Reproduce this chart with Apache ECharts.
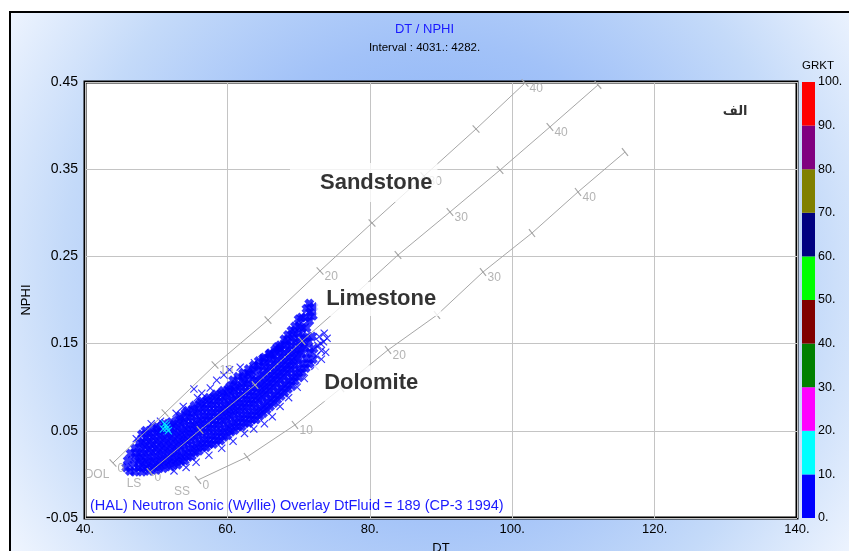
<!DOCTYPE html>
<html><head><meta charset="utf-8">
<script src="https://cdn.jsdelivr.net/npm/echarts/dist/echarts.min.js"></script>
<style>
html,body{margin:0;padding:0;background:#fff;width:849px;height:551px;overflow:hidden;}
#frame{position:absolute;left:9px;top:11px;width:870px;height:570px;border:2px solid #000;box-sizing:border-box;
background:radial-gradient(circle 520px at 425px 262px,#78a6f4 0%,#a2c2f8 45%,#c4daf9 72%,#f4f8ff 100%);}
#chart{position:absolute;left:0;top:0;width:849px;height:551px;}
</style></head>
<body>
<div id="frame"></div>
<div id="chart"></div>
<script>
// ---- axis ticks ----
const xTicks = [40, 60, 80, 100, 120, 140];
const yTicks = [-0.05, 0.05, 0.15, 0.25, 0.35, 0.45];
// ---- GRKT colour scale ----
const grBins = [0, 10, 20, 30, 40, 50, 60, 70, 80, 90];
const grColors = ['#0000ff', '#00ffff', '#ff00ff', '#008000', '#800000', '#00ff00', '#000080', '#808000', '#800080', '#ff0000'];
// ---- overlay lines: [porosity, DT, NPHI] ----
const dolTicks = [[0,43.93,0.0131],[5,51.24,0.0704],[10,58.26,0.1255],[15,65.70,0.177],[20,73.01,0.2333],[25,80.31,0.2883],[30,87.61,0.3422],[35,94.92,0.3961],[40,101.80,0.4489]];
const lsTicks = [[0,49.13,0.0028],[5,56.15,0.0509],[10,63.88,0.1025],[15,70.48,0.153],[20,77.50,0.2034],[25,83.96,0.2516],[30,91.26,0.3009],[35,98.29,0.349],[40,105.3,0.3984],[45,112.05,0.4466]];
const ssTicks = [[0,55.87,-0.0064],[5,62.75,0.020],[10,69.49,0.0567],[15,75.96,0.099],[20,82.56,0.1427],[25,89.44,0.1828],[30,95.90,0.2321],[35,102.78,0.2768],[40,109.24,0.3239],[45,115.84,0.3697]];
const lithoNames = ['DOL', 'LS', 'SS'];
// ---- text annotations: [text, DT, NPHI] ----
const annotations = [['Sandstone', 80.9, 0.3365], ['Limestone', 81.6, 0.2034], ['Dolomite', 80.2, 0.108]];
const cornerTag = ['الف', 131.3, 0.4156];
// ---- samples, GRKT 10-20 ----
const grCyan = [[51.0,0.052],[51.4,0.056],[51.7,0.050],[51.2,0.058],[51.5,0.053]];
// ---- samples, GRKT 0-10, dense body [DT, NPHI] ----
const grBlue = [
[45.8,0.008],[46.0,0.016],[46.3,0.004],[46.4,0.024],
[47.0,0.003],[46.9,0.012],[47.1,0.020],[47.0,0.030],
[47.5,0.008],[47.6,0.016],[47.4,0.025],[47.6,0.036],
[48.0,0.003],[48.1,0.011],[47.9,0.019],[48.0,0.028],[48.1,0.037],[48.0,0.046],
[48.5,0.007],[48.6,0.015],[48.4,0.024],[48.5,0.033],[48.6,0.042],[48.5,0.050],
[49.0,0.004],[49.1,0.012],[48.9,0.020],[49.0,0.029],[49.1,0.038],[49.0,0.047],
[49.5,0.008],[49.6,0.016],[49.4,0.025],[49.5,0.034],[49.6,0.043],[49.5,0.052],
[50.0,0.005],[50.1,0.013],[49.9,0.021],[50.0,0.030],[50.1,0.039],[50.0,0.048],[50.1,0.055],
[50.5,0.009],[50.6,0.017],[50.4,0.026],[50.5,0.035],[50.6,0.044],[50.5,0.052],
[51.0,0.007],[51.1,0.015],[50.9,0.023],[51.0,0.032],[51.1,0.041],[51.0,0.050],[51.1,0.058],
[51.5,0.011],[51.6,0.019],[51.4,0.028],[51.5,0.037],[51.6,0.046],[51.5,0.055],
[52.0,0.009],[52.1,0.017],[51.9,0.025],[52.0,0.034],[52.1,0.043],[52.0,0.052],[52.1,0.060],
[52.5,0.013],[52.6,0.021],[52.4,0.030],[52.5,0.039],[52.6,0.048],[52.5,0.057],
[53.0,0.011],[53.1,0.019],[52.9,0.027],[53.0,0.036],[53.1,0.045],[53.0,0.054],[53.1,0.063],
[53.5,0.015],[53.6,0.023],[53.4,0.032],[53.5,0.041],[53.6,0.050],[53.5,0.059],[53.4,0.067],
[54.0,0.016],[54.1,0.025],[53.9,0.034],[54.0,0.043],[54.1,0.052],[54.0,0.061],[54.1,0.070],
[54.5,0.020],[54.6,0.029],[54.4,0.038],[54.5,0.047],[54.6,0.056],[54.5,0.065],[54.4,0.073],
[55.0,0.021],[55.1,0.030],[54.9,0.039],[55.0,0.048],[55.1,0.057],[55.0,0.066],[55.1,0.075],
[55.5,0.025],[55.6,0.034],[55.4,0.043],[55.5,0.052],[55.6,0.061],[55.5,0.070],[55.4,0.079],
[56.0,0.027],[56.1,0.036],[55.9,0.045],[56.0,0.054],[56.1,0.063],[56.0,0.072],[56.1,0.081],
[56.5,0.031],[56.6,0.040],[56.4,0.049],[56.5,0.058],[56.6,0.067],[56.5,0.076],[56.4,0.084],
[57.0,0.031],[57.1,0.040],[56.9,0.049],[57.0,0.058],[57.1,0.067],[57.0,0.076],[57.1,0.085],
[57.5,0.035],[57.6,0.044],[57.4,0.053],[57.5,0.062],[57.6,0.071],[57.5,0.080],[57.4,0.088],
[58.0,0.035],[58.1,0.044],[57.9,0.053],[58.0,0.062],[58.1,0.071],[58.0,0.080],[58.1,0.089],
[58.5,0.039],[58.6,0.048],[58.4,0.057],[58.5,0.066],[58.6,0.075],[58.5,0.084],[58.4,0.092],
[59.0,0.039],[59.1,0.048],[58.9,0.057],[59.0,0.066],[59.1,0.075],[59.0,0.084],[59.1,0.093],
[59.5,0.043],[59.6,0.052],[59.4,0.061],[59.5,0.070],[59.6,0.079],[59.5,0.088],[59.4,0.096],
[60.0,0.045],[60.1,0.054],[59.9,0.063],[60.0,0.072],[60.1,0.081],[60.0,0.090],[60.1,0.098],
[60.5,0.049],[60.6,0.058],[60.4,0.067],[60.5,0.076],[60.6,0.085],[60.5,0.094],[60.4,0.101],
[61.0,0.051],[61.1,0.060],[60.9,0.069],[61.0,0.078],[61.1,0.087],[61.0,0.096],[61.1,0.103],
[61.5,0.055],[61.6,0.064],[61.4,0.073],[61.5,0.082],[61.6,0.091],[61.5,0.100],
[62.0,0.055],[62.1,0.064],[61.9,0.073],[62.0,0.082],[62.1,0.091],[62.0,0.100],[62.1,0.108],
[62.5,0.059],[62.6,0.068],[62.4,0.077],[62.5,0.086],[62.6,0.095],[62.5,0.104],[62.4,0.112],
[63.0,0.059],[63.1,0.068],[62.9,0.077],[63.0,0.086],[63.1,0.095],[63.0,0.104],[63.1,0.114],
[63.5,0.063],[63.6,0.072],[63.4,0.081],[63.5,0.090],[63.6,0.099],[63.5,0.108],[63.4,0.117],
[64.0,0.063],[64.1,0.072],[63.9,0.081],[64.0,0.090],[64.1,0.099],[64.0,0.108],[64.1,0.120],
[64.5,0.067],[64.6,0.076],[64.4,0.085],[64.5,0.094],[64.6,0.103],[64.5,0.112],[64.4,0.124],
[65.0,0.070],[65.1,0.079],[64.9,0.088],[65.0,0.097],[65.1,0.106],[65.0,0.115],[65.1,0.124],[65.0,0.133],
[65.5,0.074],[65.6,0.083],[65.4,0.092],[65.5,0.101],[65.6,0.110],[65.5,0.119],[65.4,0.128],
[66.0,0.078],[66.1,0.087],[65.9,0.096],[66.0,0.105],[66.1,0.114],[66.0,0.123],[66.1,0.132],[66.0,0.139],
[66.5,0.082],[66.6,0.091],[66.4,0.100],[66.5,0.109],[66.6,0.118],[66.5,0.127],[66.4,0.136],
[67.0,0.086],[67.1,0.095],[66.9,0.104],[67.0,0.113],[67.1,0.122],[67.0,0.131],[67.1,0.140],[67.0,0.146],
[67.5,0.090],[67.6,0.099],[67.4,0.108],[67.5,0.117],[67.6,0.126],[67.5,0.135],[67.4,0.144],
[68.0,0.094],[68.1,0.103],[67.9,0.112],[68.0,0.121],[68.1,0.130],[68.0,0.139],[68.1,0.148],[68.0,0.155],
[68.5,0.098],[68.6,0.107],[68.4,0.116],[68.5,0.125],[68.6,0.134],[68.5,0.143],[68.4,0.152],[68.5,0.160],
[69.0,0.102],[69.1,0.111],[68.9,0.120],[69.0,0.129],[69.1,0.138],[69.0,0.147],[69.1,0.156],[69.0,0.165],
[69.5,0.107],[69.6,0.116],[69.4,0.125],[69.5,0.134],[69.6,0.143],[69.5,0.152],[69.4,0.162],[69.5,0.170],
[70.0,0.112],[70.1,0.121],[69.9,0.131],[70.0,0.141],[70.1,0.151],[70.0,0.161],[70.1,0.170],[70.0,0.178],
[70.5,0.117],[70.6,0.127],[70.4,0.138],[70.5,0.148],[70.6,0.158],[70.5,0.168],[70.4,0.180],
[71.0,0.122],[71.1,0.133],[70.9,0.145],[71.0,0.156],[71.1,0.168],[71.0,0.180],[71.1,0.190],
[71.5,0.127],[71.6,0.140],[71.4,0.152],[71.5,0.176],[71.6,0.186],[71.5,0.196],
[72.0,0.132],[72.1,0.144],[71.9,0.158],[72.0,0.182],[72.1,0.192],
[60.8,0.108],[61.5,0.112],[62.2,0.116],[63.0,0.121],[63.7,0.125],[64.4,0.130],[65.2,0.134],[65.9,0.138],[66.7,0.143],[67.4,0.148]
];
// ---- samples, GRKT 0-10, scattered fringe ----
const grBlueFringe = [
[72.5,0.136],[72.7,0.148],[72.9,0.158],[73.2,0.142],[73.5,0.152],[73.8,0.140],[74.0,0.156],[73.6,0.162],[73.1,0.150],
[47.2,0.041],[49.3,0.058],[50.6,0.061],[52.8,0.070],[53.8,0.078],[55.3,0.098],[55.8,0.088],[56.4,0.093],[57.6,0.099],
[58.5,0.108],[59.5,0.114],[60.3,0.120],[61.8,0.123],[62.9,0.116],[63.8,0.128],
[52.5,0.004],[54.2,0.008],[55.6,0.014],[57.4,0.022],[59.2,0.030],[60.8,0.038],[62.4,0.047],[63.7,0.052],[65.2,0.058],
[66.3,0.066],[67.4,0.078],[68.6,0.088],[69.8,0.100],[70.8,0.110],[72.3,0.124],[73.2,0.132]
];

const crossBold = 'path://M0,3L3,0L5,2L7,0L10,3L8,5L10,7L7,10L5,8L3,10L0,7L2,5Z';
const crossThin = 'path://M1,0L5,4L9,0L10,1L6,5L10,9L9,10L5,6L1,10L0,9L4,5L0,1Z';
const greyLine = '#a6a6a6';
const font = 'Liberation Sans, Arial, sans-serif';
const annoPad = { Sandstone: [9, 5, 8, 30], Limestone: [6, 5, 6, 10], Dolomite: [6, 5, 8, 10] };

function lineSeries(ticks, rot) {
  return {
    type: 'line', z: 4, silent: true, animation: false,
    data: ticks.map(t => [t[1], t[2], t[0]]),
    lineStyle: { color: greyLine, width: 1 },
    itemStyle: { color: greyLine },
    symbol: 'rect', symbolSize: [1.2, 10], symbolRotate: rot, showSymbol: true
  };
}
function tickLabelSeries(ticks, zz) {
  return {
    type: 'scatter', z: zz, silent: true, animation: false,
    symbolSize: 1, itemStyle: { color: 'rgba(0,0,0,0)' },
    data: ticks.filter(t => t[0] % 10 === 0).map(t => [t[1], t[2], t[0]]),
    label: { show: true, position: 'right', distance: 4, offset: [0, 6],
      formatter: p => String(p.value[2]), color: '#a0a0a0', fontSize: 12, fontFamily: font }
  };
}
const allTicks = [dolTicks, lsTicks, ssTicks];

const series = [
  tickLabelSeries(lsTicks, 1), tickLabelSeries(ssTicks, 1),
  { type: 'scatter', z: 2, silent: true, animation: false, symbol: crossBold, symbolSize: 10,
    itemStyle: { color: grColors[0] }, data: grBlue },
  { type: 'scatter', z: 2, silent: true, animation: false, symbol: crossThin, symbolSize: 8,
    itemStyle: { color: grColors[0] }, data: grBlueFringe },
  { type: 'scatter', z: 3, silent: true, animation: false, symbol: crossThin, symbolSize: 8,
    itemStyle: { color: grColors[1] }, data: grCyan },
  lineSeries(dolTicks, 42.7), lineSeries(lsTicks, 40.8), lineSeries(ssTicks, 37.5),
  tickLabelSeries(dolTicks, 5),
  { type: 'scatter', z: 5, silent: true, animation: false, symbolSize: 1, itemStyle: { color: 'rgba(0,0,0,0)' },
    data: allTicks.map((t, i) => [t[0][1], t[0][2], lithoNames[i]]),
    label: { show: true, position: 'inside', offset: [-16, 12], formatter: p => p.value[2],
      color: '#a0a0a0', fontSize: 12, fontFamily: font } },
  { type: 'scatter', z: 10, silent: true, animation: false, symbolSize: 1, itemStyle: { color: 'rgba(0,0,0,0)' },
    data: annotations.map(a => {
      const pad = annoPad[a[0]];
      return { value: [a[1], a[2], a[0]],
        label: { padding: pad, offset: [-(pad[3] - pad[1]) / 2, 2 - (pad[0] - pad[2]) / 2] } };
    }),
    label: { show: true, position: 'inside', formatter: p => p.value[2], color: '#000',
      fontSize: 22, fontWeight: 'bold', fontFamily: font, backgroundColor: '#fff' } },
  { type: 'scatter', z: 10, silent: true, animation: false, symbolSize: 1, itemStyle: { color: 'rgba(0,0,0,0)' },
    data: [[cornerTag[1], cornerTag[2], cornerTag[0]]],
    label: { show: true, position: 'inside', formatter: p => p.value[2], color: '#000',
      fontSize: 13, fontWeight: 'bold', fontFamily: 'DejaVu Sans' } }
];
// GRKT colour bar as a stacked bar
grBins.forEach((b, i) => {
  series.push({ type: 'bar', xAxisIndex: 1, yAxisIndex: 1, stack: 'gr', barWidth: '100%', silent: true,
    animation: false, data: [10], itemStyle: { color: grColors[i] } });
});

const chart = echarts.init(document.getElementById('chart'), null, { renderer: 'canvas' });
chart.setOption({
  backgroundColor: 'transparent',
  animation: false,
  title: [
    { text: 'DT / NPHI', left: 'center', top: 18, textStyle: { color: '#1a1aff', fontSize: 13, fontWeight: 'normal', fontFamily: font } },
    { text: 'Interval : 4031.: 4282.', left: 'center', top: 37, textStyle: { color: '#000', fontSize: 11.5, fontWeight: 'normal', fontFamily: font } },
    { text: 'GRKT', left: 797, top: 55, textStyle: { color: '#000', fontSize: 11.5, fontWeight: 'normal', fontFamily: font } }
  ],
  graphic: [
    { type: 'text', left: 90, top: 498, z: 20, silent: true,
      style: { text: '(HAL) Neutron Sonic (Wyllie) Overlay DtFluid = 189 (CP-3 1994)', fill: '#1a1aff', fontSize: 14.5, fontFamily: font } }
  ],
  grid: [
    { left: 85, top: 82, width: 712, height: 436, show: true, backgroundColor: '#fff', borderColor: '#000', borderWidth: 3,
      outerBoundsMode: 'none', containLabel: false },
    { left: 802, top: 82, width: 13, height: 436, outerBoundsMode: 'none', containLabel: false }
  ],
  xAxis: [
    { type: 'value', gridIndex: 0, min: xTicks[0], max: xTicks[xTicks.length - 1], interval: 20,
      name: 'DT', nameLocation: 'middle', nameGap: 24, nameTextStyle: { color: '#000', fontSize: 13, fontFamily: font },
      axisLine: { show: false }, axisTick: { show: false },
      axisLabel: { color: '#000', fontSize: 13, margin: 5, fontFamily: font, formatter: v => v + '.' },
      splitLine: { show: true, lineStyle: { color: '#c4c4c4', width: 1 } } },
    { type: 'category', gridIndex: 1, data: ['GRKT'], show: false }
  ],
  yAxis: [
    { type: 'value', gridIndex: 0, min: yTicks[0], max: yTicks[yTicks.length - 1], interval: 0.1,
      name: 'NPHI', nameLocation: 'middle', nameGap: 52, nameTextStyle: { color: '#000', fontSize: 13, fontFamily: font },
      axisLine: { show: false }, axisTick: { show: false },
      axisLabel: { color: '#000', fontSize: 14, margin: 7, fontFamily: font, formatter: v => v.toFixed(2) },
      splitLine: { show: true, lineStyle: { color: '#c4c4c4', width: 1 } } },
    { type: 'value', gridIndex: 1, min: 0, max: 100, interval: 10, position: 'right',
      axisLine: { show: false }, axisTick: { show: false }, splitLine: { show: false },
      axisLabel: { color: '#000', fontSize: 12.5, margin: 3, fontFamily: font, formatter: v => v + '.' } }
  ],
  series: series
});
</script>
</body></html>
